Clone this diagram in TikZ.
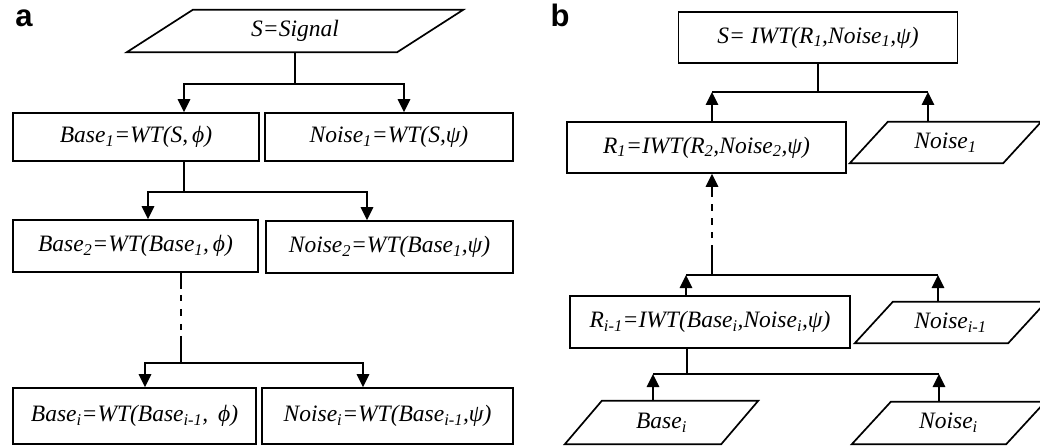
\documentclass[tikz,border=0pt]{standalone}
\usepackage{fontspec}
\setmainfont{Liberation Serif}
\newfontfamily\labfont{Liberation Sans}
\usetikzlibrary{arrows.meta,calc}
\tikzset{
  ln/.style={line width=1.7pt},
  arr/.style={ln,-{Triangle[width=12.5pt,length=13pt]}},
  txt/.style={inner sep=0pt,font=\fontsize{23.5}{27}\selectfont\itshape},
  boxnode/.style={txt,draw,ln},
  lab/.style={font=\fontsize{31}{31}\selectfont\labfont\bfseries,anchor=base,inner sep=0pt},
  dda/.style={dash pattern=on 16pt off 6pt on 6pt off 8pt on 7pt off 8pt on 6pt off 6pt on 60pt},
  ddb/.style={dash pattern=on 30pt off 7pt on 6pt off 7pt on 7pt off 7pt on 7pt off 7pt on 60pt}
}
\newcommand\pgdraw[2]{\draw[ln] (#1.south west) -- ([xshift=-#2pt]#1.south east) -- (#1.north east) -- ([xshift=#2pt]#1.north west) -- cycle;}
\begin{document}
\begin{tikzpicture}[x=1pt,y=-1pt]
\useasboundingbox (0,0) rectangle (1040,446);
% labels
\node[lab] (la) at (24,27) {a};
\node[lab] (lb) at (560,27) {b};
% ---------- panel a ----------
\node[txt,minimum width=336pt,minimum height=42pt] (sig) at (295,31) {S=Signal};
\pgdraw{sig}{66}
\node[boxnode,minimum width=246pt,minimum height=48pt] (base1) at (136,137) {Base\textsubscript{1}=WT(S,\,ϕ)};
\node[boxnode,minimum width=248pt,minimum height=48pt] (noise1) at (389,137) {Noise\textsubscript{1}=WT(S,ψ)};
\node[boxnode,minimum width=245pt,minimum height=52pt] (base2) at (135.5,246) {Base\textsubscript{2}=WT(Base\textsubscript{1},\,ϕ)};
\node[boxnode,minimum width=247pt,minimum height=52pt] (noise2) at (389.5,247) {Noise\textsubscript{2}=WT(Base\textsubscript{1},ψ)};
\node[boxnode,minimum width=243pt,minimum height=56pt] (basei) at (134.5,416) {Base\textsubscript{i}=WT(Base\textsubscript{i-1}, \,ϕ)};
\node[boxnode,minimum width=251pt,minimum height=56pt] (noisei) at (387.5,416) {Noise\textsubscript{i}=WT(Base\textsubscript{i-1},ψ)};
\coordinate (ja) at (295,84);
\coordinate (jb) at (184,192);
\coordinate (jc) at (181,363);
\draw[ln] (sig.south) -- (ja);
\draw[arr] (ja) -| ([xshift=48pt]base1.north);
\draw[arr] (ja) -| ([xshift=15pt]noise1.north);
\draw[ln] ([xshift=48pt]base1.south) -- (jb);
\draw[arr] (jb) -| ([xshift=12.5pt]base2.north);
\draw[arr] (jb) -| ([xshift=-22.5pt]noise2.north);
\draw[ln,dda] ([xshift=45.5pt]base2.south) -- (jc);
\draw[arr] (jc) -| ([xshift=10.5pt]basei.north);
\draw[arr] (jc) -| ([xshift=-24.5pt]noisei.north);
% ---------- panel b ----------
\node[boxnode,minimum width=279pt,minimum height=51pt] (sIWT) at (818,37.5) {S= IWT(R\textsubscript{1},Noise\textsubscript{1},ψ)};
\node[boxnode,minimum width=279pt,minimum height=51pt] (r1) at (706.5,147.5) {R\textsubscript{1}=IWT(R\textsubscript{2},Noise\textsubscript{2},ψ)};
\node[txt,minimum width=191pt,minimum height=41pt] (n1) at (945.5,142.5) {Noise\textsubscript{1}};
\pgdraw{n1}{38}
\node[boxnode,minimum width=280pt,minimum height=52pt] (ri1) at (710,322) {R\textsubscript{i-1}=IWT(Base\textsubscript{i},Noise\textsubscript{i},ψ)};
\node[txt,minimum width=191pt,minimum height=41pt] (ni1) at (950.5,322.5) {Noise\textsubscript{i-1}};
\pgdraw{ni1}{38}
\node[txt,minimum width=193pt,minimum height=43pt] (bi) at (661.5,422.5) {Base\textsubscript{i}};
\pgdraw{bi}{37}
\node[txt,minimum width=193pt,minimum height=42pt] (ni) at (948.5,423) {Noise\textsubscript{i}};
\pgdraw{ni}{39}
\coordinate (jd) at (818,92);
\coordinate (jdL) at (712,92);
\coordinate (jdR) at (928,92);
\draw[ln] (sIWT.south) -- (jd);
\draw[ln] (jdL) -- (jdR);
\draw[arr] ([xshift=5.5pt]r1.north) -- (jdL);
\draw[arr] ([xshift=-17.5pt]n1.north) -- (jdR);
\coordinate (je) at (712,275);
\coordinate (jeL) at (686,275);
\coordinate (jeR) at (938,275);
\draw[arr,ddb] (je) -- ([xshift=5.5pt]r1.south);
\draw[ln] (jeL) -- (jeR);
\draw[arr] ([xshift=-24pt]ri1.north) -- (jeL);
\draw[arr] ([xshift=-12.5pt]ni1.north) -- (jeR);
\coordinate (jf) at (687,374);
\coordinate (jfL) at (653,374);
\coordinate (jfR) at (939,374);
\draw[ln] ([xshift=-23pt]ri1.south) -- (jf);
\draw[ln] (jfL) -- (jfR);
\draw[arr] ([xshift=-8.5pt]bi.north) -- (jfL);
\draw[arr] ([xshift=-9.5pt]ni.north) -- (jfR);
\end{tikzpicture}
\end{document}
